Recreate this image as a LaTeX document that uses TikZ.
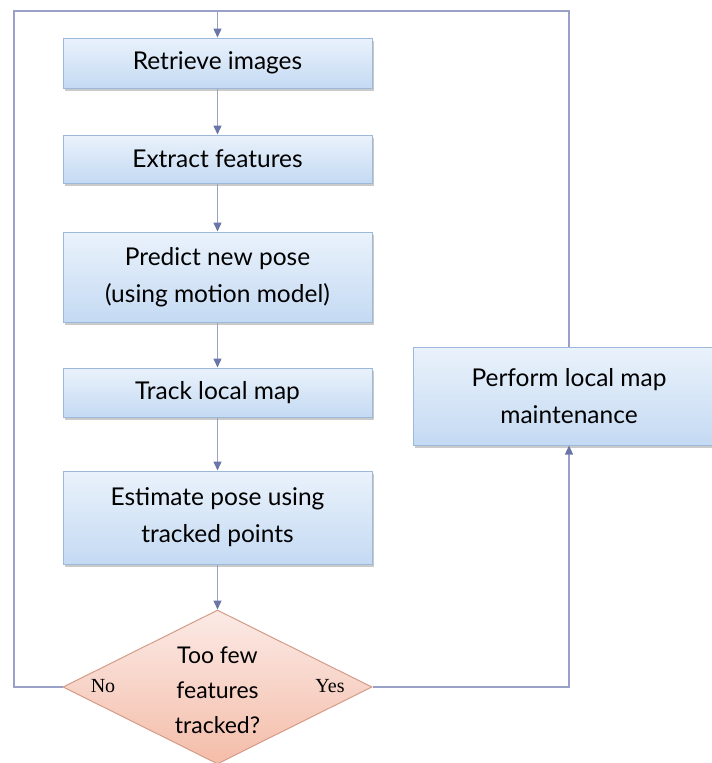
\documentclass[tikz,border=0pt]{standalone}
\usepackage{fontspec}
\setmainfont{Lato}
\newfontfamily\labfont{Liberation Serif}
\usetikzlibrary{arrows.meta,shapes.geometric,shadows}
\definecolor{boxtop}{HTML}{EAF2FB}
\definecolor{boxbot}{HTML}{C4DAF3}
\definecolor{boxline}{HTML}{9DB9DA}
\definecolor{diatop}{HTML}{FBEAE6}
\definecolor{diabot}{HTML}{F4BDA9}
\definecolor{dialine}{HTML}{D49C88}
\definecolor{conn}{HTML}{99A1C9}
\definecolor{tipc}{HTML}{6B75A8}
\tikzset{
  stepbox/.style={rectangle, draw=boxline, line width=1pt, top color=boxtop, bottom color=boxbot,
    minimum width=309pt, inner sep=0pt, align=center, text=black,
    font=\fontsize{24.5}{37}\selectfont,
    drop shadow={shadow xshift=2pt, shadow yshift=-2.5pt, opacity=0.35, fill=black!60}},
  decision/.style={diamond, draw=dialine, line width=1pt, top color=diatop, bottom color=diabot,
    minimum width=309pt, minimum height=154pt, inner sep=0pt},
  dtext/.style={align=center, text=black, inner sep=0pt, font=\fontsize{23}{35}\selectfont},
  conline/.style={draw=conn, line width=1.4pt},
  arr/.style={conline, -{Triangle[length=9pt,width=8pt,fill=tipc,color=tipc]}},
  lab/.style={font=\labfont\fontsize{20}{24}\selectfont, text=black}
}
\begin{document}
\begin{tikzpicture}[x=1pt,y=-1pt]
\useasboundingbox (0,0) rectangle (712,763);
\node[stepbox, minimum height=50pt] (b1) at (217.5,63) {Retrieve images};
\node[stepbox, minimum height=48pt] (b2) at (217.5,159) {Extract features};
\node[stepbox, minimum height=90pt] (b3) at (217.5,277) {Predict new pose\\(using motion model)};
\node[stepbox, minimum height=49pt] (b4) at (217.5,392.5) {Track local map};
\node[stepbox, minimum height=93pt] (b5) at (217.5,517.5) {Estimate pose using\\tracked points};
\node[decision] (dia) at (217.5,687) {};
\node[dtext] (dq) at (217.5,690) {Too few\\features\\tracked?};
\node[stepbox, minimum width=312pt, minimum height=98pt] (rb) at (569,396) {Perform local map\\maintenance};
\node[lab] (no) at (103,686) {No};
\node[lab] (yes) at (330,686) {Yes};
\coordinate (tl) at (14,11);
\coordinate (tr) at (569,11);
\coordinate (tm) at (217.5,11);
\draw[conline] (dia.west) -| (tl) -- (tr) -- (rb.north);
\draw[arr] (tm) -- (b1.north);
\draw[arr] (b1.south) -- (b2.north);
\draw[arr] (b2.south) -- (b3.north);
\draw[arr] (b3.south) -- (b4.north);
\draw[arr] (b4.south) -- (b5.north);
\draw[arr] (b5.south) -- (dia.north);
\draw[arr] (dia.east) -| (rb.south);
\end{tikzpicture}
\end{document}
